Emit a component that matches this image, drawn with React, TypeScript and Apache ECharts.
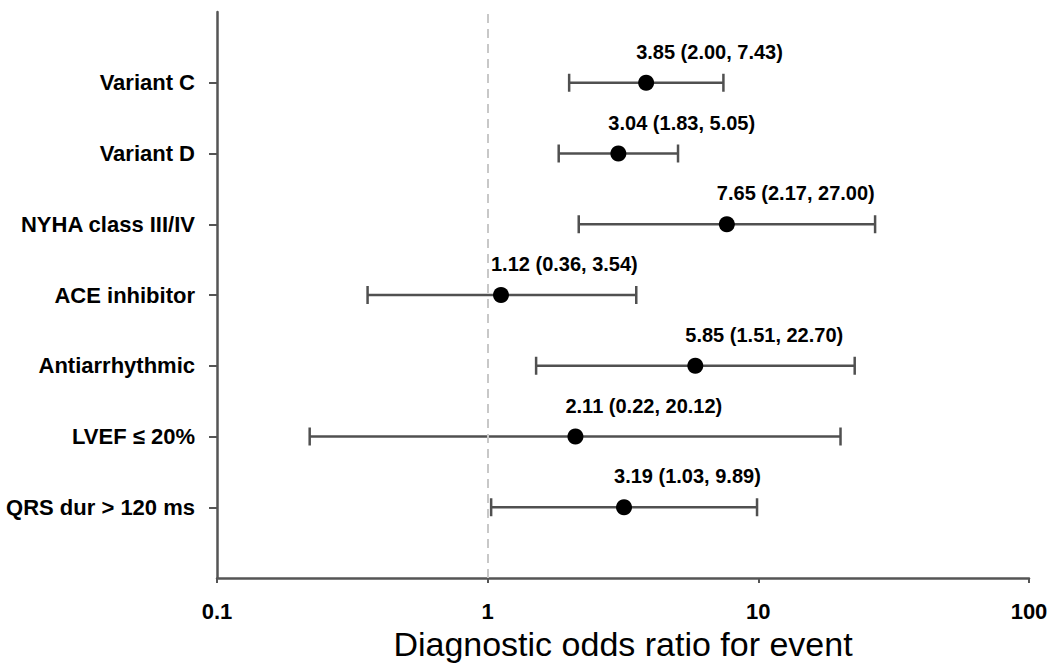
import React, { useEffect, useRef } from "react";
import * as echarts from "echarts";

const categories = [
  "Variant C",
  "Variant D",
  "NYHA class III/IV",
  "ACE inhibitor",
  "Antiarrhythmic",
  "LVEF ≤ 20%",
  "QRS dur > 120 ms",
];
const oddsRatio = [3.85, 3.04, 7.65, 1.12, 5.85, 2.11, 3.19];
const lowerCI = [2.0, 1.83, 2.17, 0.36, 1.51, 0.22, 1.03];
const upperCI = [7.43, 5.05, 27.0, 3.54, 22.7, 20.12, 9.89];
const xTicks = [0.1, 1, 10, 100];
const xAxisTitle = "Diagnostic odds ratio for event";

const FONT = "'Liberation Sans', Arial, Helvetica, sans-serif";
const N = categories.length;
const yPos = (i: number) => N - i; // top category highest

export default function App() {
  const ref = useRef<HTMLDivElement>(null);
  useEffect(() => {
    if (!ref.current) return;
    const chart = echarts.init(ref.current, null, { renderer: "svg" });
    const barData = categories.map((_, i) => [lowerCI[i], upperCI[i], yPos(i)]);
    const pointData = categories.map((_, i) => ({
      value: [oddsRatio[i], yPos(i)],
      lo: lowerCI[i],
      hi: upperCI[i],
    }));
    const yVals = categories.map((_, i) => yPos(i));
    chart.setOption({
      animation: false,
      backgroundColor: "#ffffff",
      grid: {
        left: 217,
        right: 21,
        top: 12,
        bottom: 94,
        containLabel: false,
        outerBoundsMode: "none",
      },
      xAxis: {
        type: "log",
        logBase: 10,
        min: 0.1,
        max: 100,
        name: xAxisTitle,
        nameLocation: "middle",
        nameGap: 49,
        nameTextStyle: { fontFamily: FONT, fontSize: 34, color: "#000" },
        axisLine: { show: true, lineStyle: { color: "#555", width: 2.5 } },
        axisTick: { show: true, length: 5, lineStyle: { color: "#555", width: 2 }, customValues: xTicks },
        axisLabel: {
          customValues: xTicks,
          margin: 22,
          fontFamily: FONT,
          fontSize: 22,
          fontWeight: "bold",
          color: "#000",
          formatter: (v: number) => String(Number(v.toPrecision(3))),
        },
        splitLine: { show: false },
        minorTick: { show: false },
      },
      yAxis: {
        type: "value",
        min: 0,
        max: N + 1,
        interval: 1,
        axisLine: { show: true, lineStyle: { color: "#555", width: 2.5 } },
        axisTick: { show: true, length: 8, lineStyle: { color: "#555", width: 2 }, customValues: yVals },
        axisLabel: {
          customValues: yVals,
          margin: 22,
          fontFamily: FONT,
          fontSize: 22,
          fontWeight: "bold",
          color: "#000",
          formatter: (v: number) => categories[N - v] ?? "",
        },
        splitLine: { show: false },
      },
      series: [
        {
          type: "custom",
          data: barData,
          encode: { x: [0, 1], y: 2 },
          markLine: {
            silent: true,
            symbol: "none",
            label: { show: false },
            lineStyle: { color: "#c8c8c8", type: [9, 6], width: 2 },
            data: [{ xAxis: 1 }],
          },
          renderItem: (params: any, api: any) => {
            const y = api.value(2);
            const p1 = api.coord([api.value(0), y]);
            const p2 = api.coord([api.value(1), y]);
            const h = 9;
            const style = { stroke: "#505050", lineWidth: 2.5 };
            return {
              type: "group",
              children: [
                { type: "line", shape: { x1: p1[0], y1: p1[1], x2: p2[0], y2: p2[1] }, style },
                { type: "line", shape: { x1: p1[0], y1: p1[1] - h, x2: p1[0], y2: p1[1] + h }, style },
                { type: "line", shape: { x1: p2[0], y1: p2[1] - h, x2: p2[0], y2: p2[1] + h }, style },
              ],
            };
          },
          z: 2,
        },
        {
          type: "scatter",
          data: pointData,
          symbol: "circle",
          symbolSize: 16,
          itemStyle: { color: "#000", opacity: 1 },
          z: 3,
          label: {
            show: true,
            position: [-2, -23],
            align: "left",
            verticalAlign: "middle",
            fontFamily: FONT,
            fontSize: 20,
            fontWeight: "bold",
            color: "#000",
            formatter: (p: any) =>
              `${p.value[0].toFixed(2)} (${p.data.lo.toFixed(2)}, ${p.data.hi.toFixed(2)})`,
          },
        },
      ],
    });
    return () => chart.dispose();
  }, []);
  return (
    <div
      ref={ref}
      style={{ position: "fixed", left: 0, top: 0, width: 1050, height: 672, background: "#fff" }}
    />
  );
}
